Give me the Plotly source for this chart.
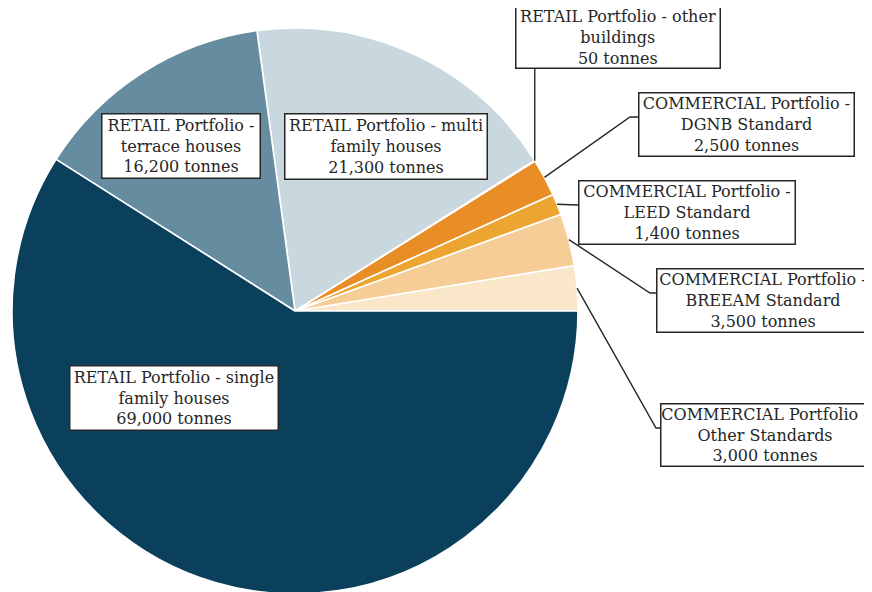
import math
import plotly.graph_objects as go

# ---- data ----
labels = [
    "COMMERCIAL Portfolio -<br>Other Standards",
    "COMMERCIAL Portfolio -<br>BREEAM Standard",
    "COMMERCIAL Portfolio -<br>LEED Standard",
    "COMMERCIAL Portfolio -<br>DGNB Standard",
    "RETAIL Portfolio - other<br>buildings",
    "RETAIL Portfolio - multi<br>family houses",
    "RETAIL Portfolio -<br>terrace houses",
    "RETAIL Portfolio - single<br>family houses",
]
values = [3000, 3500, 1400, 2500, 50, 21300, 16200, 69000]
colors = ["#FAE6C8", "#F6CD97", "#EDA532", "#E98E26", "#E3892A",
          "#C9D8DF", "#658D9F", "#0B405D"]

W, H = 872, 592
OFF = 8  # page body margin

def px(x):
    return (x - OFF) / W

def py(y):
    return 1 - (y - OFF) / H

# pie extent in page pixels
pie_x = (12, 578)
pie_y = (28, 594)  # top, bottom

total = sum(values)
first_deg = values[0] / total * 360.0

fig = go.Figure(go.Pie(
    labels=labels, values=values, sort=False, direction="counterclockwise",
    rotation=90 - first_deg, textinfo="none", hoverinfo="label+value",
    marker=dict(colors=colors, line=dict(color="white", width=1.6)),
    domain=dict(x=[px(pie_x[0]), px(pie_x[1])], y=[py(pie_y[1]), py(pie_y[0])]),
    showlegend=False,
))

cx = (pie_x[0] + pie_x[1]) / 2
cy = (pie_y[0] + pie_y[1]) / 2
R = min(pie_x[1] - pie_x[0], pie_y[1] - pie_y[0]) / 2

# label box layout (page pixels): center x, center y, width, height; leader elbow (or None)
boxes = [
    (765, 435, 210, 64, (656, 428)),
    (763, 300, 214, 65, (650, 293)),
    (687, 212.5, 218, 65, (578, 205)),
    (746.5, 124.5, 217, 65, (630, 117)),
    (618, 37.5, 206, 63, None),
    (386, 146.5, 204, 67, None),
    (181, 146, 160, 66, None),
    (174, 398, 210, 66, None),
]

fmt_vals = ["{:,} tonnes".format(v) for v in values]
annotations = []
shapes = []
cum = 0.0
for i, (lab, v) in enumerate(zip(labels, values)):
    mid = (cum + v / 2) / total * 2 * math.pi
    cum += v
    bx, by, bw, bh, elbow = boxes[i]
    annotations.append(dict(
        x=px(bx), y=py(by), xref="paper", yref="paper",
        xanchor="center", yanchor="middle", showarrow=False,
        text=lab + "<br>" + fmt_vals[i], align="center",
        font=dict(family="DejaVu Serif", size=16, color="#262626"),
        bgcolor="white", bordercolor="#262626", borderwidth=1.5, borderpad=0,
        width=bw - 3, height=bh - 3,
    ))
    if i <= 4:
        sx = cx + R * math.cos(mid)
        sy = cy - R * math.sin(mid)
        if elbow is None:
            path = "M {} {} L {} {}".format(px(sx), py(sy), px(sx), py(by + bh / 2))
        else:
            ex, ey = elbow
            path = "M {} {} L {} {} L {} {}".format(
                px(sx), py(sy), px(ex), py(ey), px(bx - bw / 2), py(ey))
        shapes.append(dict(type="path", xref="paper", yref="paper", path=path,
                           line=dict(color="#262626", width=1.4)))

fig.update_layout(
    width=W, height=H, margin=dict(l=0, r=0, t=0, b=0),
    paper_bgcolor="white", plot_bgcolor="white",
    annotations=annotations, shapes=shapes,
)
fig.write_html("out.html")
